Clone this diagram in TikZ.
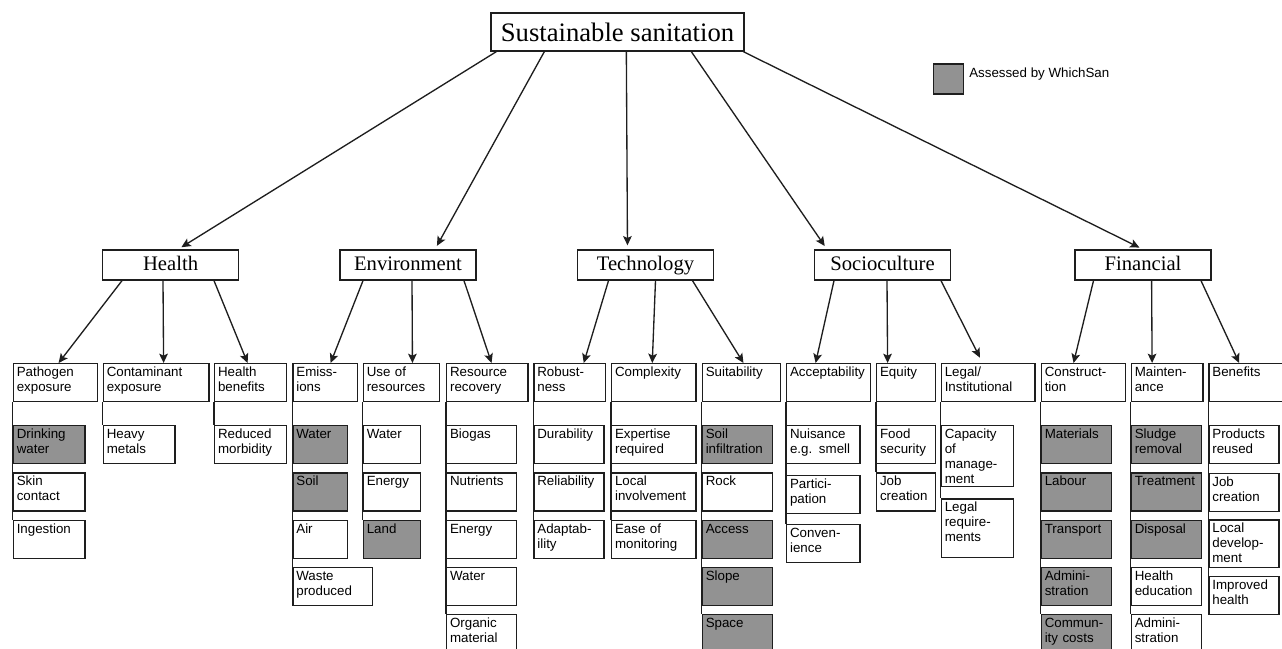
\documentclass[tikz,border=0pt]{standalone}
\usepackage{fontspec}
\setmainfont{Liberation Serif}
\setsansfont{Liberation Sans}
\usetikzlibrary{arrows.meta,calc}
\definecolor{assessed}{RGB}{146,146,146}
\definecolor{edge}{RGB}{30,30,30}
\tikzset{
	root/.style={
		draw=edge, line width=1pt,
		minimum width=189.75pt, minimum height=28.5pt, inner sep=0pt,
		font=\fontsize{20}{24}\selectfont, text height=17pt, text depth=2.4pt
	},
	cat/.style={
		draw=edge, line width=1pt,
		minimum width=102pt, minimum height=22.5pt, inner sep=0pt,
		font=\fontsize{15.5}{18}\selectfont, text height=12pt, text depth=3pt
	},
	leaf/.style={
		draw=edge, line width=0.9pt, anchor=north west, align=left,
		inner xsep=2.6pt, inner ysep=0pt, text height=9.8pt, text depth=18.7pt,
		font=\sffamily\fontsize{10}{11.25}\selectfont
	},
	leaf a/.style={fill=assessed},
	iw/.style={text width=#1*0.75pt-5.2pt},
	link/.style={draw=edge, line width=1pt},
}

\begin{document}
\begin{tikzpicture}[x=0.75pt, y=-0.75pt, >={Stealth[length=7pt,width=6.5pt,inset=1.5pt]}]
\useasboundingbox (0,0) rectangle (1282,649);

\node [root] (root) at (617.5,32) {Sustainable sanitation};

\node [draw=edge, line width=1pt, fill=assessed, minimum size=22.5pt, inner sep=0pt] (key) at (948.3,79) {};
\node [anchor=base west, inner sep=0pt, font=\sffamily\fontsize{10}{12}\selectfont] (key-text) at (969,77.5) {Assessed by WhichSan};

\foreach \c/\l/\x in {health/Health/170.6, env/Environment/408, tech/Technology/645.5, socio/Socioculture/882.5, fin/Financial/1143}
	\node [cat] (\c) at (\x,265) {\l};

% Health
\node [leaf, iw=84] (pat) at (12.7,363) {Pathogen\\exposure};
\foreach \m/\l [count=\y] in {a/{Drinking\\water}, n/{Skin\\contact}, n/Ingestion}
	\node [leaf, leaf \m/.try, iw=71.7] (pat-\y) at (12.7,{425+47.3*(\y-1)}) {\l};

\node [leaf, iw=105.6] (con) at (102.7,363) {Contaminant\\exposure};
\node [leaf, iw=71.6] (con-1) at (102.7,425) {Heavy\\metals};

\node [leaf, iw=72] (hben) at (214,363) {Health\\benefits};
\node [leaf, iw=72] (hben-1) at (214,425) {Reduced\\morbidity};

% Environment
\node [leaf, iw=64.4] (emi) at (292.3,363) {Emiss-\\ions};
\foreach \m/\l [count=\y] in {a/Water, a/Soil, n/Air}
	\node [leaf, leaf \m/.try, iw=54.4] (emi-\y) at (292.3,{425+47.3*(\y-1)}) {\l};
\node [leaf, iw=79.3] (emi-4) at (292.3,566.9) {Waste\\produced};

\node [leaf, iw=76.3] (use) at (362.7,363) {Use of\\resources};
\foreach \m/\l [count=\y] in {n/Water, n/Energy, a/Land}
	\node [leaf, leaf \m/.try, iw=57.3] (use-\y) at (362.7,{425+47.3*(\y-1)}) {\l};

\node [leaf, iw=81.3] (rec) at (446,363) {Resource\\recovery};
\foreach \l [count=\y] in {Biogas, Nutrients, Energy, Water, {Organic\\material}}
	\node [leaf, iw=70] (rec-\y) at (446,{425+47.3*(\y-1)}) {\l};

% Technology
\node [leaf, iw=71.7] (rob) at (533.3,363) {Robust-\\ness};
\foreach \l [count=\y] in {Durability, Reliability, {Adaptab-\\ility}}
	\node [leaf, iw=70] (rob-\y) at (533.3,{425+47.3*(\y-1)}) {\l};

\node [leaf, iw=84.3] (cpx) at (611,363) {Complexity};
\foreach \l [count=\y] in {{Expertise\\required}, {Local\\involvement}, {Ease of\\monitoring}}
	\node [leaf, iw=84.3] (cpx-\y) at (611,{425+47.3*(\y-1)}) {\l};

\node [leaf, iw=78.3] (sui) at (701.7,363) {Suitability};
\foreach \m/\l [count=\y] in {a/{Soil\\infiltration}, n/Rock, a/Access, a/Slope, a/Space}
	\node [leaf, leaf \m/.try, iw=70] (sui-\y) at (701.7,{425+47.3*(\y-1)}) {\l};

% Socioculture
\node [leaf, iw=84] (acc) at (786,363) {Acceptability};
\foreach \l [count=\y] in {{Nuisance\\e.g. smell}, {Partici-\\pation}, {Conven-\\ience}}
	\node [leaf, iw=73.3] (acc-\y) at (786,{425+49.5*(\y-1)}) {\l};

\node [leaf, iw=59] (equ) at (876,363) {Equity};
\foreach \l [count=\y] in {{Food\\security}, {Job\\creation}}
	\node [leaf, iw=59] (equ-\y) at (876,{425+47.3*(\y-1)}) {\l};

\node [leaf, iw=93.6] (leg) at (940.7,363) {Legal/\\Institutional};
\node [leaf, iw=72, text depth=35.7pt] (leg-1) at (940.7,425) {Capacity\\of\\manage-\\ment};
\node [leaf, iw=72, text depth=34.4pt] (leg-2) at (940.7,498.3) {Legal\\require-\\ments};

% Financial
\node [leaf, iw=84.3] (cst) at (1040.7,363) {Construct-\\tion};
\foreach \l [count=\y] in {Materials, Labour, Transport, {Admini-\\stration}, {Commun-\\ity costs}}
	\node [leaf, leaf a, iw=70] (cst-\y) at (1040.7,{425+47.3*(\y-1)}) {\l};

\node [leaf, iw=71.6] (mnt) at (1130.7,363) {Mainten-\\ance};
\foreach \m/\l [count=\y] in {a/{Sludge\\removal}, a/Treatment, a/Disposal, n/{Health\\education}, n/{Admini-\\stration}}
	\node [leaf, leaf \m/.try, iw=70] (mnt-\y) at (1130.7,{425+47.3*(\y-1)}) {\l};

\node [leaf, iw=76] (ben) at (1208.3,363) {Benefits};
\foreach \l/\p/\d [count=\y] in {{Products\\reused}/425/18.7, {Job\\creation}/472.7/18.7, {Local\\develop-\\ment}/519.3/25.7, {Improved\\health}/576/18.7}
	\node [leaf, iw=70, text depth=\d pt] (ben-\y) at (1208.3,\p) {\l};

% connectors
\foreach \c/\s/\e in {health/6/7.4, env/54/27, tech/136/-18, socio/201/-55.5, fin/253/0}
	\draw [link, ->, shorten >=3pt] ($(root.south west)+(\s,0)$) -- ($(\c.north)+(\e,0)$);

\foreach \c/\h/\s/\e in {health/pat/-48.6/3.3, health/con/-7.6/7.5, health/hben/43.4/-3,
		env/emi/-45/5.5, env/use/4/11, env/rec/56/4.3,
		tech/rob/-37/14, tech/cpx/10/-1.5, tech/sui/47/2,
		socio/acc/-48.5/-13, socio/equ/4.5/-18.5,
		fin/cst/-49.5/-9.9, fin/mnt/8.6/-15, fin/ben/58/-7.7}
	\draw [link, ->] ($(\c.south)+(\s,0)$) -- ($(\h.north)+(\e,0)$);
\draw [link, ->, shorten >=4.5pt] ($(socio.south)+(58.5,0)$) -- ($(leg.north)+(-5.5,0)$);

\foreach \c/\n in {pat/3, con/1, hben/1, emi/4, use/3, rec/5, rob/3, cpx/3, sui/5, acc/3, equ/2, leg/2, cst/5, mnt/5, ben/4}
	\draw [link] (\c.south west) -- (\c-\n.north west);

\end{tikzpicture}
\end{document}
